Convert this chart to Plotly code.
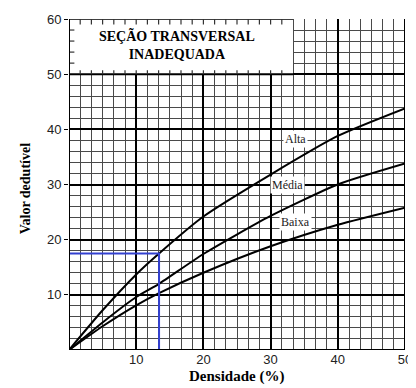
import plotly.graph_objects as go

# curve values (x = density %, y = deduct value)
dens = [0, 5, 10, 13.4, 20, 30, 40, 50]
alta = [0, 7.2, 13.7, 17.5, 24.2, 31.8, 38.8, 43.8]
media_dens = [0, 5, 10, 13.4, 20, 30, 40, 50]
media = [0, 5.0, 9.6, 12.0, 17.4, 24.3, 30.0, 33.8]
baixa_dens = [0, 5, 10, 13.4, 20, 30, 40, 50]
baixa = [0, 4.3, 8.1, 10.3, 14.0, 18.8, 22.7, 25.8]

curve_names = ["Alta", "Média", "Baixa"]
label_x = [33.7, 32.5, 33.7]
label_y = [38.2, 30.0, 23.2]

# reading example (blue guide lines)
read_x = 13.4
read_y = 17.5

x_ticks = [10, 20, 30, 40, 50]
y_ticks = [10, 20, 30, 40, 50, 60]

X_MINOR = 10 / 6
Y_MINOR = 2
BOX_X = 20 * X_MINOR  # right edge of the title box

fig = go.Figure()

for xs, ys, nm in [(dens, alta, "Alta"), (media_dens, media, "Média"), (baixa_dens, baixa, "Baixa")]:
    fig.add_trace(go.Scatter(x=xs, y=ys, mode="lines", name=nm,
                             line=dict(color="black", width=2, shape="spline", smoothing=0.6),
                             showlegend=False, hoverinfo="skip"))

fig.add_trace(go.Scatter(x=[0, read_x, read_x], y=[read_y, read_y, -0.4], mode="lines",
                         line=dict(color="#3340d0", width=2), showlegend=False,
                         cliponaxis=False, hoverinfo="skip"))

shapes = []
# white title box over the 50-60 band
shapes.append(dict(type="rect", xref="x", yref="y", x0=0, x1=BOX_X, y0=50, y1=60,
                   fillcolor="white", line=dict(width=0), layer="above"))
shapes.append(dict(type="line", xref="x", yref="y", x0=0, x1=BOX_X, y0=50, y1=50,
                   line=dict(color="black", width=2), layer="above"))
shapes.append(dict(type="line", xref="x", yref="y", x0=0, x1=BOX_X, y0=60, y1=60,
                   line=dict(color="black", width=1.5), layer="above"))
# small ticks along box edges
for i in range(1, 20):
    xv = i * X_MINOR
    shapes.append(dict(type="line", xref="x", yref="y", x0=xv, x1=xv, y0=60, y1=59,
                       line=dict(color="#333", width=1.2), layer="above"))
    shapes.append(dict(type="line", xref="x", yref="y", x0=xv, x1=xv, y0=50, y1=50.7,
                       line=dict(color="#333", width=1.2), layer="above"))
for j in range(1, 5):
    yv = 50 + j * Y_MINOR
    shapes.append(dict(type="line", xref="x", yref="y", x0=0, x1=0.8, y0=yv, y1=yv,
                       line=dict(color="#333", width=1.2), layer="above"))
# frame
shapes.append(dict(type="line", xref="x", yref="y", x0=0, x1=0, y0=0, y1=60,
                   line=dict(color="black", width=2), layer="above"))
shapes.append(dict(type="line", xref="x", yref="y", x0=0, x1=50, y0=0, y1=0,
                   line=dict(color="black", width=2), layer="above"))
shapes.append(dict(type="line", xref="x", yref="y", x0=50, x1=50, y0=0, y1=60,
                   line=dict(color="black", width=2), layer="above"))

annotations = [
    dict(x=BOX_X / 2 - 0.6, y=55.3, xref="x", yref="y", showarrow=False,
         text="<b>SEÇÃO TRANSVERSAL<br>INADEQUADA</b>",
         font=dict(family="Liberation Serif", size=14, color="black")),
    # axis titles
    dict(text="<b>Densidade (%)</b>", xref="paper", yref="paper",
         x=(240 - 69) / 343, y=-(377 - 350) / 336, yanchor="middle", showarrow=False,
         font=dict(family="Liberation Serif", size=15, color="black")),
    dict(text="<b>Valor dedutível</b>", xref="paper", yref="paper",
         x=-(69 - 25) / 343, y=(350 - 186) / 336, textangle=-90,
         xanchor="center", yanchor="middle", showarrow=False,
         font=dict(family="Liberation Serif", size=14, color="black")),
]
for nm, lx, ly in zip(curve_names, label_x, label_y):
    annotations.append(dict(x=lx, y=ly, xref="x", yref="y", text=nm, showarrow=False,
                            bgcolor="white", borderpad=1,
                            font=dict(family="Liberation Serif", size=12, color="#222")))

# the page has an 8px body margin, so the figure is 8px smaller to fit the window
fig.update_layout(
    width=408, height=380,
    margin=dict(l=61, r=4, t=6, b=38),
    paper_bgcolor="white", plot_bgcolor="white",
    shapes=shapes, annotations=annotations,
    xaxis=dict(range=[0, 50], tickvals=x_ticks, ticks="", showline=False, zeroline=False,
               ticklabeloverflow="allow",
               showgrid=True, gridcolor="black", gridwidth=2,
               minor=dict(dtick=X_MINOR, tick0=0, showgrid=True, gridcolor="#4a4a4a", gridwidth=1.2),
               tickfont=dict(family="Liberation Sans", size=13, color="#222")),
    yaxis=dict(range=[0, 60], tickvals=y_ticks, ticks="outside", ticklen=4, tickcolor="black",
               showline=False, zeroline=False, ticklabeloverflow="allow",
               showgrid=True, gridcolor="black", gridwidth=2,
               minor=dict(dtick=Y_MINOR, tick0=0, showgrid=True, gridcolor="#4a4a4a", gridwidth=1.2),
               tickfont=dict(family="Liberation Sans", size=13, color="#222")),
)

fig.write_html("out.html")
